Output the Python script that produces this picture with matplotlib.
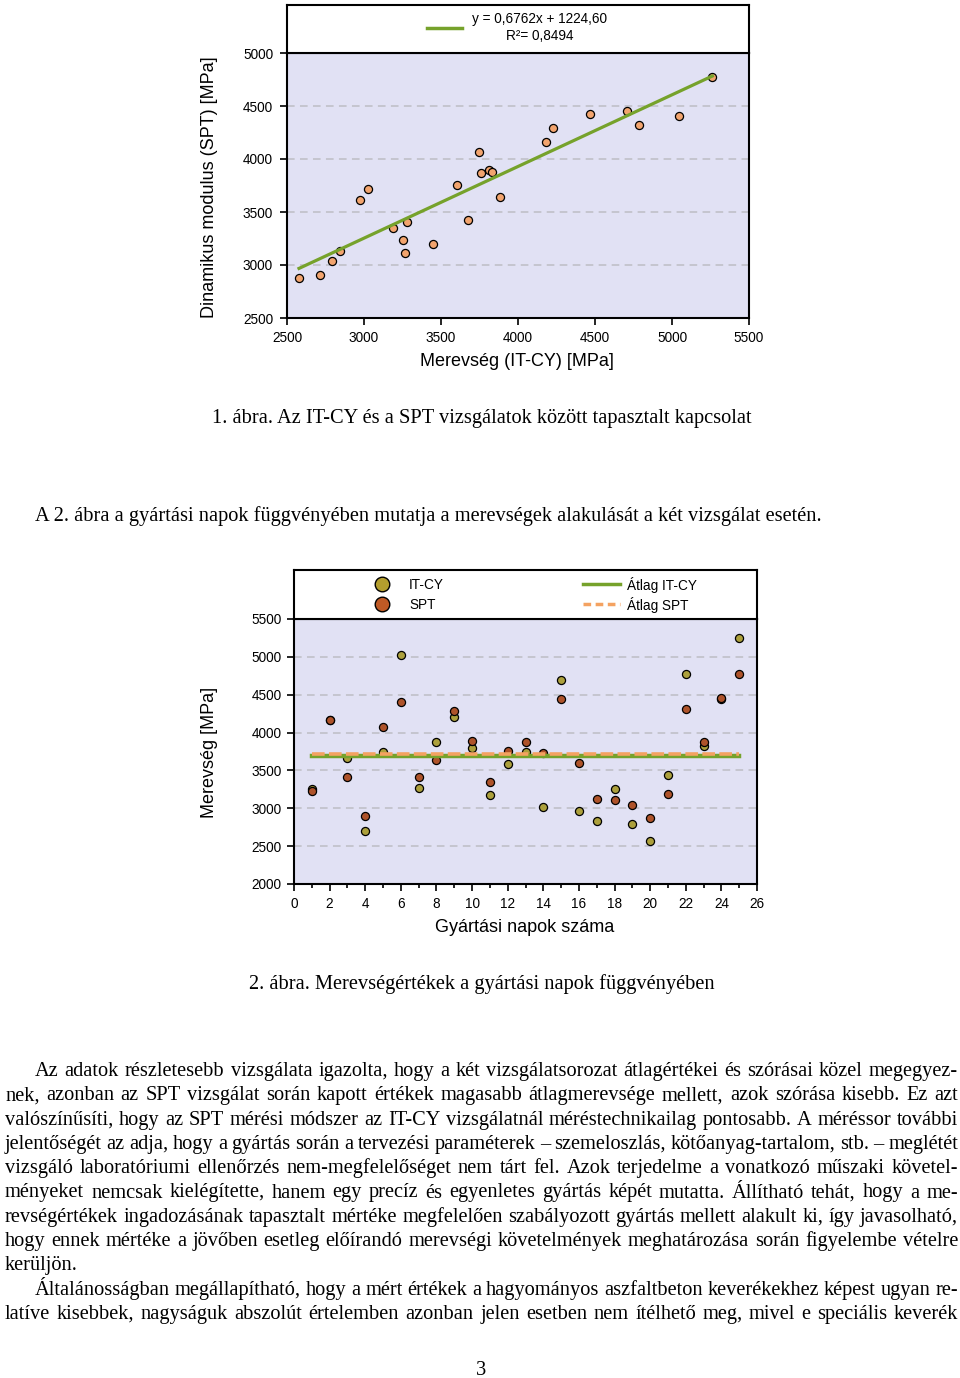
import numpy as np
import matplotlib
matplotlib.use('Agg')
import matplotlib.pyplot as plt

SANS = 'Liberation Sans'
SERIF = 'Liberation Serif'
W, H = 960, 1378

# --- 1. ábra: IT-CY vs SPT
itcy_1 = [2578, 2714, 2794, 2846, 2974, 3026, 3188, 3277, 3255, 3264, 3450, 3604, 3677,
          3749, 3758, 3812, 3833, 3885, 4180, 4225, 4465, 4705, 4784, 5045, 5262]
spt_1 = [2874, 2906, 3038, 3135, 3610, 3717, 3346, 3409, 3236, 3113, 3195, 3755, 3422,
         4069, 3871, 3896, 3880, 3645, 4164, 4296, 4422, 4453, 4318, 4406, 4774]
SLOPE, INTERCEPT, R2 = 0.6762, 1224.60, 0.8494

# --- 2. ábra: gyártási napok
days = list(range(1, 26))
itcy_2 = [3250, 4170, 3668, 2703, 3744, 5025, 3263, 3872, 4209, 3800, 3174, 3588, 3746,
          3017, 4690, 2967, 2835, 3250, 2787, 2571, 3435, 4774, 3823, 4440, 5253]
spt_2 = [3230, 4160, 3416, 2898, 4069, 4399, 3408, 3641, 4288, 3893, 3342, 3757, 3876,
         3725, 4447, 3603, 3127, 3110, 3038, 2872, 3189, 4315, 3876, 4457, 4774]
AVG_ITCY, AVG_SPT = 3697, 3722

LAV = '#E1E1F4'
GREEN = '#76A22B'
ORANGE = '#F4A261'
OLIVE = '#ACA03C'
BROWN = '#AE532A'
GRID = '#BDBDC4'


def fx(px):
    return px / W


def fy(py):
    return 1 - py / H


def style_axes(ax):
    ax.set_facecolor(LAV)
    for s in ax.spines.values():
        s.set_linewidth(1.5)
    ax.tick_params(axis='both', direction='out', length=5, width=1.2,
                   labelsize=9.8, top=False, right=False)
    for lab in ax.get_xticklabels() + ax.get_yticklabels():
        lab.set_family(SANS)


fig = plt.figure(figsize=(W / 100, H / 100), dpi=100)

# ---------------- chart 1
ax1 = fig.add_axes([fx(287), fy(318), 462 / W, 265 / H])
ax1.set_xlim(2500, 5500)
ax1.set_ylim(2500, 5000)
ax1.set_xticks(np.arange(2500, 5501, 500))
ax1.set_yticks(np.arange(2500, 5001, 500))
for v in np.arange(3000, 5000, 500):
    ax1.axhline(v, color=GRID, lw=1.1, ls=(0, (5, 3.5)), zorder=1)
ax1.scatter(itcy_1, spt_1, s=34, c='#F2A46E', edgecolors='black', linewidths=0.9, zorder=3)
xl = np.array([min(itcy_1), max(itcy_1)])
ax1.plot(xl, SLOPE * xl + INTERCEPT, color=GREEN, lw=2.3, zorder=4)
style_axes(ax1)
ax1.tick_params(axis='y', pad=5)
ax1.tick_params(axis='x', pad=4)

box1 = fig.add_axes([fx(287), fy(53), 462 / W, 48 / H])
box1.set_xlim(287, 749)
box1.set_ylim(53, 5)
box1.set_xticks([]); box1.set_yticks([])
for s in box1.spines.values():
    s.set_linewidth(1.5)
box1.plot([427, 462], [28, 28], color=GREEN, lw=2.5)
eq = f"y = {SLOPE:.4f}x + {INTERCEPT:.2f}".replace('.', ',')
box1.text(540, 19, eq, ha='center', va='center', fontsize=9.8, family=SANS)
box1.text(540, 36, f"R\u00b2= {R2:.4f}".replace('.', ','), ha='center', va='center',
          fontsize=9.8, family=SANS)

fig.text(fx(210), fy(187), 'Dinamikus modulus (SPT) [MPa]', rotation=90, ha='center',
         va='center', fontsize=13, family=SANS)
fig.text(fx(517), fy(361), 'Merevség (IT-CY) [MPa]', ha='center', va='center',
         fontsize=13, family=SANS)

# ---------------- chart 2
ax2 = fig.add_axes([fx(294), fy(884), 463 / W, 265 / H])
ax2.set_xlim(0, 26)
ax2.set_ylim(2000, 5500)
ax2.set_xticks(np.arange(0, 27, 2))
ax2.set_xticks(np.arange(1, 26, 2), minor=True)
ax2.set_yticks(np.arange(2000, 5501, 500))
for v in np.arange(2500, 5500, 500):
    ax2.axhline(v, color=GRID, lw=1.1, ls=(0, (5, 3.5)), zorder=1)
ax2.scatter(days, itcy_2, s=34, c=OLIVE, edgecolors='black', linewidths=0.9, zorder=3)
ax2.scatter(days, spt_2, s=34, c=BROWN, edgecolors='black', linewidths=0.9, zorder=3)
ax2.plot([days[0], days[-1]], [AVG_ITCY, AVG_ITCY], color=GREEN, lw=3.2, zorder=4)
ax2.plot([days[0], days[-1]], [AVG_SPT, AVG_SPT], color=ORANGE, lw=2.6,
         ls=(0, (3.5, 1.2)), zorder=5)
style_axes(ax2)
ax2.tick_params(axis='x', which='minor', direction='out', length=3, width=1.2)
ax2.tick_params(axis='y', pad=4)
ax2.tick_params(axis='x', pad=4)

box2 = fig.add_axes([fx(294), fy(619), 463 / W, 49 / H])
box2.set_xlim(294, 757)
box2.set_ylim(619, 570)
box2.set_xticks([]); box2.set_yticks([])
for s in box2.spines.values():
    s.set_linewidth(1.5)
box2.plot([382], [584], 'o', ms=10.5, mfc='#B49E2E', mec='black', mew=1)
box2.plot([382], [604], 'o', ms=10.5, mfc='#BF5A25', mec='black', mew=1)
box2.text(409, 585, 'IT-CY', va='center', fontsize=9.8, family=SANS)
box2.text(409, 605, 'SPT', va='center', fontsize=9.8, family=SANS)
box2.plot([583, 620], [584, 584], color=GREEN, lw=2.5)
box2.plot([583, 620], [604, 604], color=ORANGE, lw=2.5, ls=(0, (2.2, 1.3)))
box2.text(627, 585, 'Átlag IT-CY', va='center', fontsize=9.8, family=SANS)
box2.text(627, 605, 'Átlag SPT', va='center', fontsize=9.8, family=SANS)

fig.text(fx(210), fy(752), 'Merevség [MPa]', rotation=90, ha='center', va='center',
         fontsize=13, family=SANS)
fig.text(fx(525), fy(927), 'Gyártási napok száma', ha='center', va='center',
         fontsize=13, family=SANS)

# ---------------- page text
FS = 14.65
fig.text(fx(482), fy(423), '1. ábra. Az IT-CY és a SPT vizsgálatok között tapasztalt kapcsolat',
         ha='center', va='baseline', fontsize=FS, family=SERIF)
fig.text(fx(35), fy(521), 'A 2. ábra a gyártási napok függvényében mutatja a merevségek '
         'alakulását a két vizsgálat esetén.', ha='left', va='baseline', fontsize=FS, family=SERIF)
fig.text(fx(482), fy(989), '2. ábra. Merevségértékek a gyártási napok függvényében',
         ha='center', va='baseline', fontsize=FS, family=SERIF)
fig.text(fx(481), fy(1375), '3', ha='center', va='baseline', fontsize=FS, family=SERIF)

para = [
    ("Az adatok részletesebb vizsgálata igazolta, hogy a két vizsgálatsorozat átlagértékei és szórásai közel megegyez-", 35, True),
    ("nek, azonban az SPT vizsgálat során kapott értékek magasabb átlagmerevsége mellett, azok szórása kisebb. Ez azt", 5, True),
    ("valószínűsíti, hogy az SPT mérési módszer az IT-CY vizsgálatnál méréstechnikailag pontosabb. A méréssor további", 5, True),
    ("jelentőségét az adja, hogy a gyártás során a tervezési paraméterek – szemeloszlás, kötőanyag-tartalom, stb. – meglétét", 5, True),
    ("vizsgáló laboratóriumi ellenőrzés nem-megfelelőséget nem tárt fel. Azok terjedelme a vonatkozó műszaki követel-", 5, True),
    ("ményeket nemcsak kielégítette, hanem egy precíz és egyenletes gyártás képét mutatta. Állítható tehát, hogy a me-", 5, True),
    ("revségértékek ingadozásának tapasztalt mértéke megfelelően szabályozott gyártás mellett alakult ki, így javasolható,", 5, True),
    ("hogy ennek mértéke a jövőben esetleg előírandó merevségi követelmények meghatározása során figyelembe vételre", 5, True),
    ("kerüljön.", 5, False),
    ("Általánosságban megállapítható, hogy a mért értékek a hagyományos aszfaltbeton keverékekhez képest ugyan re-", 35, True),
    ("latíve kisebbek, nagyságuk abszolút értelemben azonban jelen esetben nem ítélhető meg, mivel e speciális keverék", 5, True),
]

renderer = fig.canvas.get_renderer()
X_RIGHT = 958
for i, (line, x0, just) in enumerate(para):
    yb = 1076 + 24.3 * i
    words = line.split(' ')
    objs = [fig.text(0, fy(yb), w, fontsize=FS, family=SERIF, va='baseline') for w in words]
    widths = [o.get_window_extent(renderer).width for o in objs]
    if just and len(words) > 1:
        gap = (X_RIGHT - x0 - sum(widths)) / (len(words) - 1)
    else:
        gap = 5
    x = x0
    for o, w in zip(objs, widths):
        o.set_x(fx(x))
        x += w + gap

fig.savefig('out.png', dpi=100)
